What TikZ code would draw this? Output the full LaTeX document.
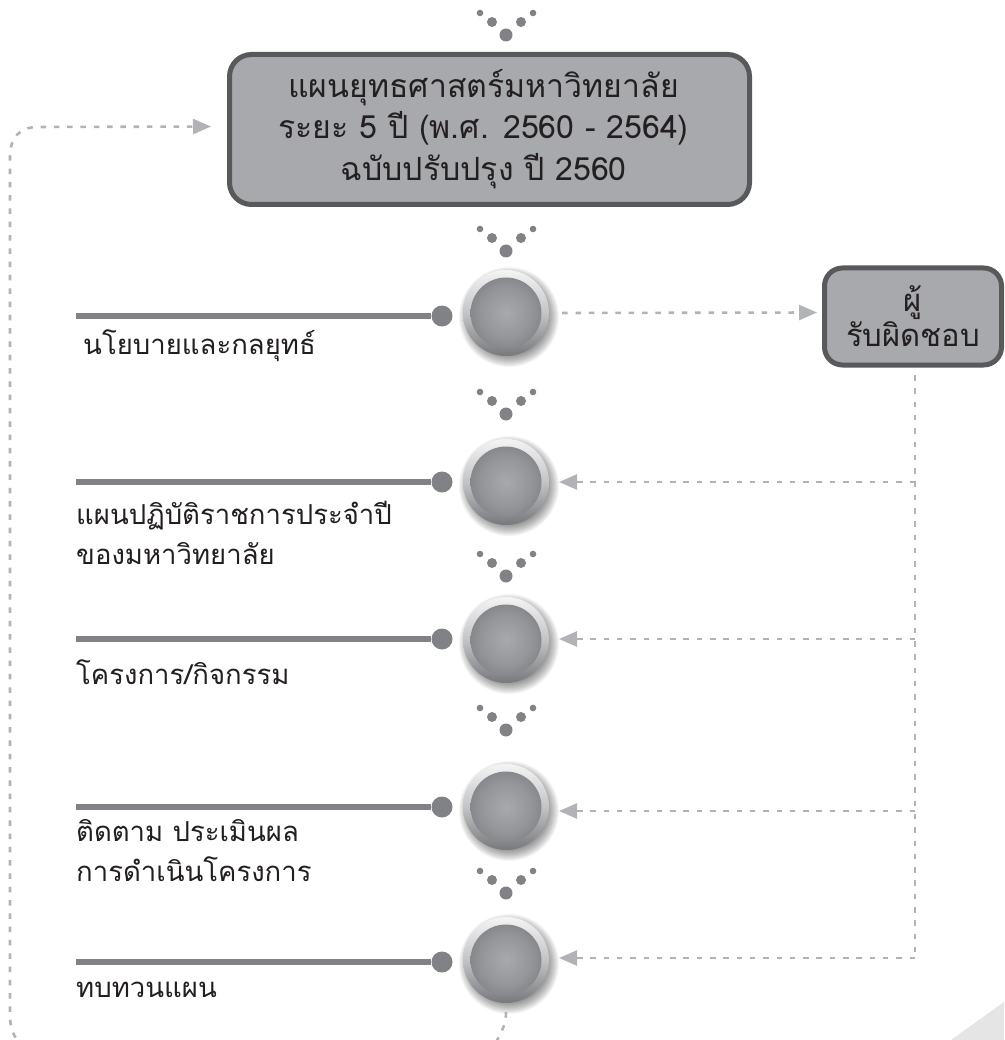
\documentclass[tikz,border=0pt]{standalone}
\usepackage{fontspec}
\usetikzlibrary{arrows.meta,shapes.geometric,calc}
\newfontfamily\thaifont[Script=Thai]{Loma}
\definecolor{fillgray}{HTML}{A7A9AC}
\definecolor{edgegray}{HTML}{58595B}
\definecolor{dotgray}{HTML}{808285}
\definecolor{dashgray}{HTML}{B1B3B6}
\definecolor{ink}{HTML}{231F20}
\definecolor{ballmid}{HTML}{939598}
\definecolor{ballout}{HTML}{737477}
\definecolor{ringtop}{HTML}{F4F4F5}
\definecolor{ringmid}{HTML}{C3C4C6}
\definecolor{ringbot}{HTML}{77787B}
\pgfdeclareradialshading{ballcore}{\pgfpointorigin}{color(0bp)=(fillgray); color(18bp)=(ballmid); color(36bp)=(ballout); color(50bp)=(ballout)}
\tikzset{
  x=1pt,y=-1pt,
  planbox/.style={draw=edgegray,line width=5pt,fill=fillgray,rounded corners=22pt,align=center,text=ink,font=\thaifont\fontsize{32}{41}\selectfont,inner sep=0pt},
  lab/.style={anchor=west,align=left,text=ink,font=\thaifont\fontsize{27.5}{40}\selectfont,inner sep=0pt},
  ball/.style={circle,minimum size=86pt,inner sep=0pt},
  dashline/.style={draw=dashgray,line width=2.6pt,dash pattern=on 5.5pt off 7.8pt},
  tip/.style={-{Triangle[length=18pt,width=15pt,fill=dashgray]}},
  rule/.style={draw=dotgray,line width=5.5pt},
  pin/.style={circle,fill=dotgray,minimum size=21pt,inner sep=0pt},
  vdot/.style={fill=dotgray,draw=none},
}
\newcommand{\vmark}[1]{%
  \fill[vdot] (506,#1) circle (6.5);
  \fill[vdot] (492,#1-13) circle (5);
  \fill[vdot] (521,#1-13) circle (5);
  \fill[vdot] (480,#1-22) circle (3.3);
  \fill[vdot] (533,#1-22) circle (3.3);
}
\newcommand{\rowitem}[3]{%
  \foreach \s in {1,...,14}{\fill[black,opacity=0.04] (509,#2+4) circle ({36+\s});}
  \shade[top color=ringtop,bottom color=ringbot,middle color=ringmid] (506,#2) circle (43);
  \shade[shading=ballcore] (506,#2) circle (35.5);
  \node[ball] (#1) at (506,#2) {};
  \coordinate (#1L) at (76,#3);
  \node[pin] (#1P) at (442,#3) {};
  \draw[rule] (#1L) -- (#1P);
}
\begin{document}
\begin{tikzpicture}
\useasboundingbox (0,0) rectangle (1004,1040);
\clip (0,0) rectangle (1004,1040);
\fill[white] (0,0) rectangle (1004,1040);
\fill[black!10] (951,1040) -- (1004,1002) -- (1004,1040) -- cycle;

\vmark{35}\vmark{251}\vmark{414}\vmark{576}\vmark{730}\vmark{893}

\node[planbox,minimum width=520pt,minimum height=150pt] (main) at (489.5,129.5) {\hspace*{-12pt}\raisebox{1pt}{แผนยุทธศาสตร์มหาวิทยาลัย}\\\hspace*{-12pt}\raisebox{1pt}{ระยะ 5 ปี (พ.ศ. 2560 - 2564)}\\\hspace*{-12pt}ฉบับปรับปรุง ปี 2560};
\node[planbox,minimum width=177pt,minimum height=97pt,rounded corners=18pt,font=\thaifont\fontsize{31}{35}\selectfont] (resp) at (913,316.5) {ผู้\\รับผิดชอบ};

\rowitem{a}{313}{316}
\rowitem{b}{482}{482}
\rowitem{c}{640}{639}
\rowitem{d}{807}{807}
\rowitem{e}{960}{962}

\node[lab] (la) at (83,346) {นโยบายและกลยุทธ์};
\node[lab] (lb) at (76,533) {แผนปฏิบัติราชการประจำปี\\ของมหาวิทยาลัย};
\node[lab] (lc) at (76,672) {โครงการ/กิจกรรม};
\node[lab] (ld) at (76,851) {ติดตาม ประเมินผล\\การดำเนินโครงการ};
\node[lab] (le) at (76,990) {ทบทวนแผน};

\coordinate (rtop) at (915,375);
\coordinate (rb) at (915,482);
\coordinate (rc) at (915,639);
\coordinate (rd) at (915,811);
\coordinate (re) at (915,958);
\coordinate (ta) at (559,482);
\coordinate (tc) at (559,639);
\coordinate (td) at (559,811);
\coordinate (te) at (559,958);

\draw[dashline,tip] ($(a.east)+(13,0)$) -- ($(resp.west)+(-5,-4)$);
\draw[dashline] (rtop) -- (re);
\draw[dashline,tip] (rb) -- (ta);
\draw[dashline,tip] (rc) -- (tc);
\draw[dashline,tip] (rd) -- (td);
\draw[dashline,tip] (re) -- (te);
\draw[dashline,tip] ($(e.south)+(0,9)$) .. controls (506,1022) and (503,1032) .. (492,1048) -- (40,1048)
  .. controls (18,1048) and (10,1035) .. (10,1015) -- (10,157)
  .. controls (10,137) and (20,127) .. (38,127) -- ($(main.west)+(-16,-3)$);
\end{tikzpicture}
\end{document}
